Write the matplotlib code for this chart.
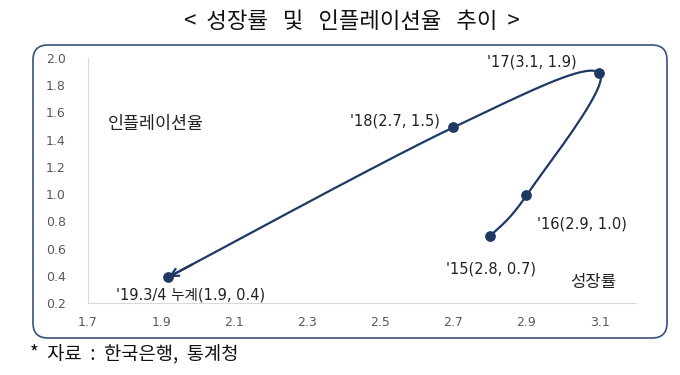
import numpy as np
import matplotlib
matplotlib.use('Agg')
import matplotlib.pyplot as plt
from matplotlib.patches import FancyBboxPatch

plt.rcParams['font.family'] = ['Noto Sans CJK KR', 'DejaVu Sans']
lat = ['DejaVu Sans', 'Noto Sans CJK KR']

# 데이터: 성장률(x), 인플레이션율(y)
labels = ["'15(2.8, 0.7)", "'16(2.9, 1.0)", "'17(3.1, 1.9)", "'18(2.7, 1.5)", "'19.3/4 누계(1.9, 0.4)"]
growth = [2.8, 2.9, 3.1, 2.7, 1.92]
inflation = [0.69, 0.99, 1.89, 1.49, 0.39]

xticks = [1.7, 1.9, 2.1, 2.3, 2.5, 2.7, 2.9, 3.1]
yticks = [0.2, 0.4, 0.6, 0.8, 1.0, 1.2, 1.4, 1.6, 1.8, 2.0]

navy = '#1F3864'

fig = plt.figure(figsize=(6.8, 3.75), dpi=100)
ax = fig.add_axes([88/680, 1-303/375, 548/680, 245/375])

# 엑셀식 부드러운 선 (Catmull-Rom), 화면 비율로 계산
xr, yr = 1.5, 1.8
sx, sy = 548/xr, 245/yr
P = np.column_stack([np.array(growth)*sx, np.array(inflation)*sy])
Pe = np.vstack([P[0], P, P[-1]])
curve = []
for i in range(len(P)-1):
    p0, p1, p2, p3 = Pe[i], Pe[i+1], Pe[i+2], Pe[i+3]
    c1 = p1 + (p2 - p0) / 6
    c2 = p2 - (p3 - p1) / 6
    t = np.linspace(0, 1, 40)[:, None]
    seg = (1-t)**3*p1 + 3*(1-t)**2*t*c1 + 3*(1-t)*t**2*c2 + t**3*p2
    curve.append(seg if i == 0 else seg[1:])
curve = np.vstack(curve)
cx, cy = curve[:, 0]/sx, curve[:, 1]/sy

ax.plot(cx, cy, color=navy, lw=1.6, zorder=3)
ax.annotate('', xy=(growth[-1], inflation[-1]), xytext=(cx[-6], cy[-6]),
            arrowprops=dict(arrowstyle='->', color=navy, lw=1.6,
                            mutation_scale=14, shrinkA=0, shrinkB=0), zorder=4)
ax.scatter(growth, inflation, s=45, color=navy, zorder=5)

# 데이터 레이블
lab_off = [(1, -33), (56, -29), (-68, 11), (-58, 6), (22, -18)]
for (x, y), (dx, dy), t in zip(zip(growth, inflation), lab_off, labels):
    ax.annotate(t, xy=(x, y), xytext=(dx, dy), textcoords='offset pixels',
                ha='center', va='center', fontsize=10.5, color='#222222', family=lat)

ax.text(108/680, 1-124/375, '인플레이션율', transform=fig.transFigure,
        fontsize=12.5, color='#222222', va='center')
ax.text(570/680, 1-282/375, '성장률', transform=fig.transFigure,
        fontsize=12, color='#222222', va='center')

ax.set_xlim(1.7, 3.2)
ax.set_ylim(0.2, 2.0)
ax.set_xticks(xticks)
ax.set_yticks(yticks)
ax.set_xticklabels([f'{v:.1f}' for v in xticks], family=lat)
ax.set_yticklabels([f'{v:.1f}' for v in yticks], family=lat)
ax.tick_params(length=0, labelsize=9, labelcolor='#595959', pad=9)
ax.tick_params(axis='y', pad=16)
for s in ['top', 'right']:
    ax.spines[s].set_visible(False)
for s in ['left', 'bottom']:
    ax.spines[s].set_color('#D9D9D9')
ax.set_facecolor('none')

# 둥근 테두리
box = FancyBboxPatch((0.33, 0.37), 6.34, 2.93, boxstyle='round,pad=0,rounding_size=0.15',
                     transform=fig.dpi_scale_trans, facecolor='white',
                     edgecolor='#3B4F7F', lw=1.2, zorder=-1)
fig.patches.append(box)

fig.text(352/680, 1-22/375, '<  성장률   및   인플레이션율   추이  >', ha='center', va='center',
         fontsize=16, color='#111111')
fig.text(30/680, 1-354/375, '*  자료  :  한국은행,  통계청', ha='left', va='center',
         fontsize=13.5, color='#111111')

fig.savefig('out.png', dpi=100, facecolor='white')
